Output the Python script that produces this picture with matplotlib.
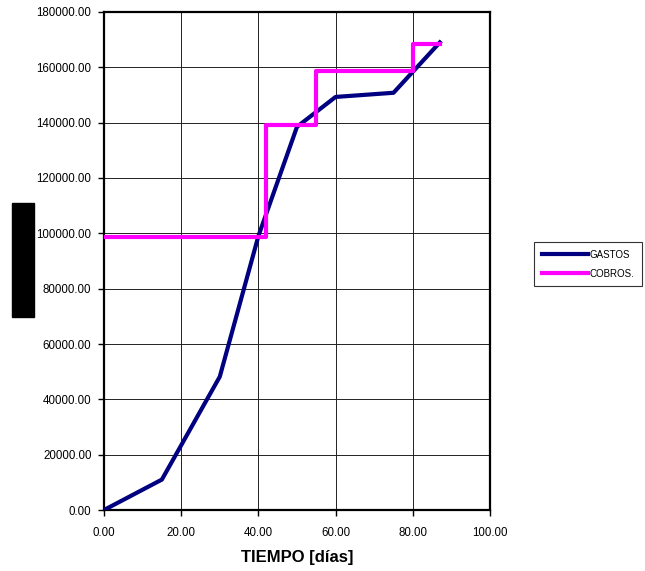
import matplotlib
matplotlib.use('Agg')
import matplotlib.pyplot as plt
from matplotlib.patches import Rectangle

plt.rcParams['font.family'] = ['Liberation Sans', 'DejaVu Sans']

# Gastos acumulados (dias, importe)
gastos_x = [0, 15, 30, 40, 50, 60, 75, 87]
gastos_y = [0, 11000, 48200, 99000, 138500, 149300, 150800, 169000]

# Cobros acumulados (escalones)
cobros_x = [0, 42, 55, 80, 87]
cobros_y = [98800, 139000, 158700, 168400, 168400]

xticks = [0, 20, 40, 60, 80, 100]
yticks = list(range(0, 180001, 20000))

fig = plt.figure(figsize=(6.45, 5.71), dpi=100)
ax = fig.add_axes([0.1612, 0.1068, 0.5985, 0.8722])

ax.plot(gastos_x, gastos_y, color='#000080', lw=3, label='GASTOS', zorder=3)
ax.step(cobros_x, cobros_y, where='post', color='#FF00FF', lw=3,
        label='COBROS.', zorder=4)

ax.set_xlim(0, 100)
ax.set_ylim(0, 180000)
ax.set_xticks(xticks)
ax.set_yticks(yticks)
ax.set_xticklabels(['%.2f' % v for v in xticks], fontsize=8.3)
ax.set_yticklabels(['%.2f' % v for v in yticks], fontsize=8.3)
ax.tick_params(axis='y', direction='out', length=4, width=1, pad=5)
ax.tick_params(axis='x', direction='out', length=4, width=1, pad=8)
ax.grid(True, color='#222222', lw=0.7)
ax.set_axisbelow(True)
for s in ax.spines.values():
    s.set_linewidth(1.6)

ax.set_xlabel('TIEMPO [días]', fontsize=12, fontweight='bold', labelpad=8)

# etiqueta del eje y tapada
fig.patches.append(Rectangle((12 / 645, 1 - 317 / 571), 22 / 645, 114 / 571,
                             transform=fig.transFigure, color='black'))

leg = fig.legend(loc='upper left', bbox_to_anchor=(534 / 645, 1 - 242 / 571),
                 fontsize=7, frameon=True, fancybox=False, handlelength=4.8,
                 handletextpad=0.1, borderpad=0.8, labelspacing=0.9,
                 borderaxespad=0)
leg.get_frame().set_edgecolor('black')
leg.get_frame().set_linewidth(0.8)

fig.savefig('out.png', dpi=100)
